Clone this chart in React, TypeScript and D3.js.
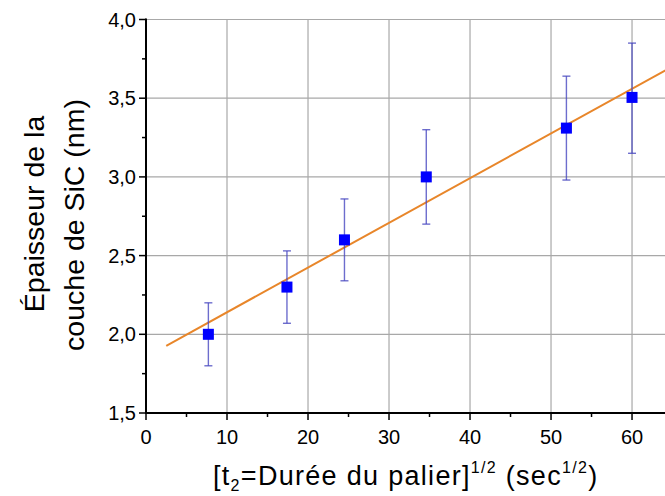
import React from "react";
import * as d3 from "d3";

const xValues = [7.7, 17.4, 24.5, 34.6, 51.9, 60.0];
const yValues = [2.0, 2.3, 2.6, 3.0, 3.31, 3.505];
const yErrUp = [2.2, 2.53, 2.86, 3.3, 3.64, 3.85];
const yErrLow = [1.8, 2.07, 2.34, 2.7, 2.98, 3.15];
const fitIntercept = 1.856;
const fitSlope = 0.0284;
const fitRange = [2.5, 64.5];
const xTicks = [0, 10, 20, 30, 40, 50, 60];
const xMinor = [5, 15, 25, 35, 45, 55];
const yTicks = [1.5, 2.0, 2.5, 3.0, 3.5, 4.0];
const yMinor = [1.75, 2.25, 2.75, 3.25, 3.75];

const W = 665;
const H = 496;
const left = 146;
const top = 19.5;
const bottom = 413;
const right = 665;
const font = "'Liberation Sans', Arial, sans-serif";

export default function App() {
  const x = d3.scaleLinear().domain([0, 64.07]).range([left, right]);
  const y = d3.scaleLinear().domain([1.5, 4.0]).range([bottom, top]);
  const fmt = (v: number) => v.toFixed(1).replace(".", ",");
  const line = d3
    .line<number>()
    .x((d) => x(d))
    .y((d) => y(fitIntercept + fitSlope * d));
  const ms = 11;
  const cap = 4;
  return (
    <svg
      width={W}
      height={H}
      style={{ position: "absolute", left: 0, top: 0, background: "#fff" }}
      fontFamily={font}
    >
      {/* grid */}
      {xTicks.slice(1).map((t) => (
        <line key={"gx" + t} x1={x(t)} x2={x(t)} y1={top} y2={bottom} stroke="#a8a8a8" strokeWidth={1.2} />
      ))}
      {yTicks.slice(1).map((t) => (
        <line key={"gy" + t} x1={left} x2={right} y1={y(t)} y2={y(t)} stroke="#a8a8a8" strokeWidth={1.2} />
      ))}
      {/* fit line */}
      <path d={line(fitRange) || ""} fill="none" stroke="#e8862a" strokeWidth={2} />
      {/* error bars */}
      {xValues.map((v, i) => (
        <g key={"e" + i} stroke="#4848c0" strokeOpacity={0.8} strokeWidth={1.4}>
          <line x1={x(v)} x2={x(v)} y1={y(yErrUp[i])} y2={y(yErrLow[i])} />
          <line x1={x(v) - cap} x2={x(v) + cap} y1={y(yErrUp[i])} y2={y(yErrUp[i])} />
          <line x1={x(v) - cap} x2={x(v) + cap} y1={y(yErrLow[i])} y2={y(yErrLow[i])} />
        </g>
      ))}
      {/* points */}
      {xValues.map((v, i) => (
        <rect key={"p" + i} x={x(v) - ms / 2} y={y(yValues[i]) - ms / 2} width={ms} height={ms} fill="#0000ff" />
      ))}
      {/* axes */}
      <line x1={left} x2={left} y1={top - 1} y2={bottom + 1} stroke="#000" strokeWidth={2} />
      <line x1={left - 1} x2={right} y1={bottom} y2={bottom} stroke="#000" strokeWidth={2} />
      {xTicks.map((t) => (
        <g key={"xt" + t}>
          <line x1={x(t)} x2={x(t)} y1={bottom} y2={bottom + 7} stroke="#000" strokeWidth={1.5} />
          <text x={x(t)} y={444} textAnchor="middle" fontSize={20} fill="#000">
            {t}
          </text>
        </g>
      ))}
      {xMinor.map((t) => (
        <line key={"xm" + t} x1={x(t)} x2={x(t)} y1={bottom} y2={bottom + 4} stroke="#000" strokeWidth={1.5} />
      ))}
      {yTicks.map((t) => (
        <g key={"yt" + t}>
          <line x1={left} x2={left - 7} y1={y(t)} y2={y(t)} stroke="#000" strokeWidth={1.5} />
          <text x={136} y={y(t) + 7} textAnchor="end" fontSize={20} fill="#000">
            {fmt(t)}
          </text>
        </g>
      ))}
      {yMinor.map((t) => (
        <line key={"ym" + t} x1={left} x2={left - 4} y1={y(t)} y2={y(t)} stroke="#000" strokeWidth={1.5} />
      ))}
      {/* y label */}
      <text transform="translate(44,214) rotate(-90)" textAnchor="middle" fontSize={28.5} fill="#000">
        Épaisseur de la
      </text>
      <text transform="translate(84,225) rotate(-90)" textAnchor="middle" fontSize={28.5} fill="#000">
        couche de SiC (nm)
      </text>
      {/* x label */}
      <text x={213} y={485} textAnchor="start" fontSize={27} letterSpacing={1.3} fill="#000">
        <tspan>[t</tspan>
        <tspan fontSize={16} dy={6}>2</tspan>
        <tspan dy={-6}>=Durée du palier]</tspan>
        <tspan fontSize={16} dy={-12}>1/2</tspan>
        <tspan dy={12}> (sec</tspan>
        <tspan fontSize={16} dy={-12}>1/2</tspan>
        <tspan dy={12}>)</tspan>
      </text>
    </svg>
  );
}
